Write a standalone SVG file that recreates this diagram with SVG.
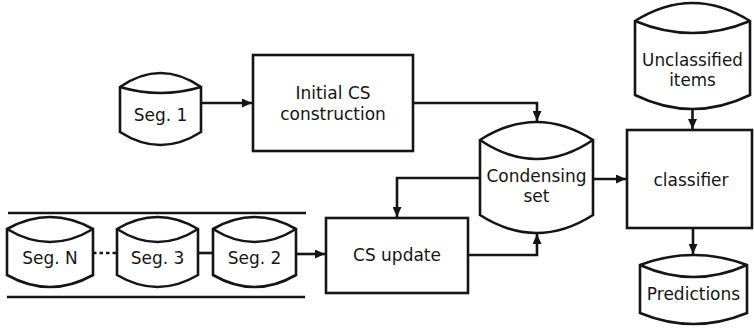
<svg xmlns="http://www.w3.org/2000/svg" width="754" height="331" viewBox="0 0 754 331">
<defs>
<style>
.s{fill:#fff;stroke:#151515;stroke-width:2.6;stroke-linejoin:miter}
.c{fill:none;stroke:#151515;stroke-width:2.6}
.t{font-family:"DejaVu Sans",sans-serif;font-size:17px;fill:#151515;text-anchor:middle}
</style>
<marker id="ah" markerUnits="userSpaceOnUse" markerWidth="10" markerHeight="9" refX="10" refY="4.5" orient="auto">
<path d="M0,0 L10,4.5 L0,9 Z" fill="#151515"/>
</marker>
</defs>
<rect width="754" height="331" fill="#fff"/>
<g id="seg-lines">
<line class="c" x1="8" y1="213" x2="306" y2="213"/>
<line class="c" x1="7" y1="297" x2="305" y2="297"/>
</g>
<g id="connectors">
<path class="c" d="M201,103 H252" marker-end="url(#ah)"/>
<path class="c" d="M413,103 H537 V121" marker-end="url(#ah)"/>
<path class="c" d="M480,178 H397 V217" marker-end="url(#ah)"/>
<path class="c" d="M468,255 H537 V234" marker-end="url(#ah)"/>
<path class="c" d="M593,179 H626" marker-end="url(#ah)"/>
<path class="c" d="M692.5,109 V129" marker-end="url(#ah)"/>
<path class="c" d="M693,228 V254" marker-end="url(#ah)"/>
<path class="c" d="M296,254 H325" marker-end="url(#ah)"/>
<path class="c" d="M198,253 H213"/>
<path class="c" d="M93,253 H117" stroke-dasharray="3.5,3"/>
</g>
<g id="seg1">
<path class="s" d="M120,87 Q160.5,59 201,87 L201,132 Q160.5,158 120,132 Z"/>
<path class="c" d="M120,87 Q160.5,99 201,87"/>
<text class="t" x="160.5" y="121">Seg. 1</text>
</g>
<g id="initial-cs">
<rect class="s" x="253" y="55" width="160" height="96"/>
<text class="t" x="333" y="99">Initial CS</text>
<text class="t" x="333" y="120">construction</text>
</g>
<g id="condensing-set">
<path class="s" d="M480,140 Q536.5,104 593,140 L593,215 Q536.5,251 480,215 Z"/>
<path class="c" d="M480,140 Q536.5,178 593,140"/>
<text class="t" x="536.5" y="182">Condensing</text>
<text class="t" x="536.5" y="202">set</text>
</g>
<g id="unclassified">
<path class="s" d="M635,21 Q692.5,-15 750,21 L750,95 Q692.5,123 635,95 Z"/>
<path class="c" d="M635,21 Q692.5,45 750,21"/>
<text class="t" x="692.5" y="66" style="font-size:16.8px">Unclassified</text>
<text class="t" x="692.5" y="85.5" style="font-size:16.8px">items</text>
</g>
<g id="classifier">
<rect class="s" x="627" y="130" width="125" height="98"/>
<text class="t" x="691" y="186">classifier</text>
</g>
<g id="predictions">
<path class="s" d="M640,265 Q693.5,245 747,265 L747,313 Q693.5,335 640,313 Z"/>
<path class="c" d="M640,265 Q693.5,289 747,265"/>
<text class="t" x="693.5" y="300">Predictions</text>
</g>
<g id="cs-update">
<rect class="s" x="326" y="218" width="142" height="75"/>
<text class="t" x="397" y="261">CS update</text>
</g>
<g id="segN">
<path class="s" d="M7,229 Q50,205 93,229 L93,275 Q50,299 7,275 Z"/>
<path class="c" d="M7,229 Q50,255 93,229"/>
<text class="t" x="50" y="264">Seg. N</text>
</g>
<g id="seg3">
<path class="s" d="M117,229 Q157.5,205 198,229 L198,275 Q157.5,299 117,275 Z"/>
<path class="c" d="M117,229 Q157.5,255 198,229"/>
<text class="t" x="157.5" y="264">Seg. 3</text>
</g>
<g id="seg2">
<path class="s" d="M213,229 Q254.5,205 296,229 L296,275 Q254.5,299 213,275 Z"/>
<path class="c" d="M213,229 Q254.5,255 296,229"/>
<text class="t" x="254.5" y="264">Seg. 2</text>
</g>
</svg>
